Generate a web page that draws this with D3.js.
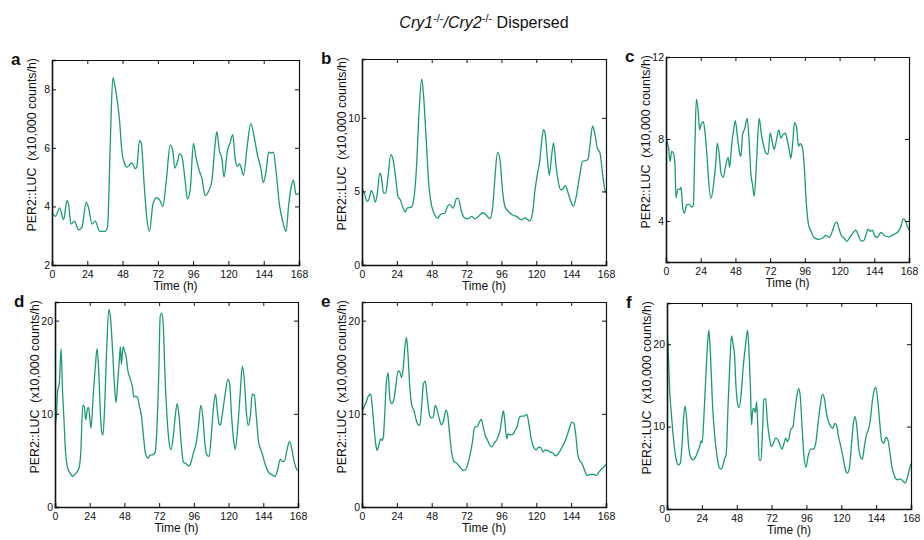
<!DOCTYPE html>
<html>
<head>
<meta charset="utf-8">
<script src="https://cdn.jsdelivr.net/npm/d3@7"></script>
<style>
  body { margin: 0; background: #fff; }
  svg text { font-family: "Liberation Sans", Arial, sans-serif; fill: #111; }
  .ylab { white-space: pre; }
</style>
</head>
<body>
<div id="chart"></div>
<script>
// PER2::LUC traces, [time (h), x10,000 counts/h]
var seriesA = [[0,3.8],[2.3,3.66],[5.2,3.95],[7.9,3.55],[10.2,4.2],[11.3,4.06],[12.9,3.4],[15.2,3.5],[18.1,3.2],[20.4,3.3],[23.3,4.15],[24.9,3.94],[27.2,3.4],[29.4,3.5],[32.4,3.15],[36.2,3.15],[37.8,3.3],[39.6,6.1],[41.4,8.4],[43,8.06],[46,6.9],[47.5,5.9],[49.1,5.5],[51,5.34],[54.3,5.49],[56.6,5.29],[57.7,5.35],[59.5,6.25],[60.7,6.17],[62.7,4.74],[64.5,3.6],[66.3,3.15],[68.6,4.06],[70.9,4.3],[73.1,4.23],[75.4,4.0],[77.7,4.86],[80.4,6.1],[82.2,5.89],[83.5,5.31],[85.4,5.54],[86.7,5.8],[88.3,5.71],[90.6,4.86],[92.1,4.25],[94,4.57],[96.2,6.15],[98,5.66],[100.3,5.2],[101.9,4.97],[104.2,4.37],[106.4,4.51],[108.7,4.86],[110.9,6.11],[112.1,6.55],[113.9,5.89],[115.5,5.66],[117,5.0],[119.3,5.89],[121.1,6.17],[123,6.45],[124.5,5.66],[126.1,5.37],[127.5,5.45],[129,5.26],[130.2,5.06],[132.9,6.11],[135.2,6.83],[137.4,6.4],[139.7,5.77],[142,5.31],[143.8,4.82],[145.6,5.2],[147.4,5.86],[148.8,5.82],[150.6,5.85],[152.4,5.2],[154.7,4.06],[156.9,3.49],[159.2,3.15],[161,4.06],[163,4.74],[164.2,4.9],[166,4.4],[168,4.45]];

var seriesB = [[0,5.2],[1.8,4.8],[3.4,4.32],[4.8,4.45],[6.4,5.05],[7.6,4.85],[9.2,4.27],[10.6,4.9],[12.2,6.25],[13.3,6.0],[14.9,4.88],[16.3,4.88],[17.9,6.0],[19.8,7.5],[21.4,7.16],[23.2,5.9],[24.8,4.66],[26.4,4.43],[28.3,3.86],[29.9,3.6],[31,3.86],[34,3.93],[35.9,4.66],[37.5,6.6],[39.3,10.45],[41.1,12.65],[42.5,11.36],[44.4,8.18],[46,5.45],[47.8,4.09],[50.1,3.4],[52,3.18],[54.2,3.45],[57,3.52],[58.8,3.98],[60.4,4.1],[62.7,3.86],[65,4.5],[66.2,4.55],[68.5,3.64],[70.8,3.18],[73.1,3.14],[75.4,3.3],[77.7,3.14],[80,3.3],[83.4,3.55],[85.8,3.36],[88,3.14],[89.9,3.86],[91.5,5.9],[93.3,7.65],[95,7.16],[96.8,5.0],[98.4,3.98],[100.7,3.64],[103.7,3.4],[106.4,3.3],[109.9,3.07],[112.2,3.2],[113.8,3.1],[115.6,3.0],[117.4,3.52],[119,5.0],[120.9,6.25],[122.5,7.16],[123.7,8.41],[125,9.2],[126.2,8.86],[127.6,7.27],[129,6.1],[130.3,7.2],[131.9,8.3],[133.5,6.82],[135.1,5.68],[136.7,5.11],[138.6,5.2],[140,5.4],[141.6,5.0],[143.6,4.36],[145.5,4.0],[147.3,4.55],[149.6,5.9],[151.9,7.05],[154.2,7.1],[155.6,7.2],[157,8.18],[158.8,9.45],[160.4,8.86],[162,7.95],[163.9,7.6],[165.7,6.14],[167.5,5.0],[168,4.9]];

var seriesC = [[0,8.0],[1.8,7.56],[2.8,6.9],[3.9,7.4],[5.1,7.32],[6.2,6.75],[6.9,5.13],[8.1,5.54],[9.7,5.54],[10.4,5.65],[11.5,4.65],[12.7,4.38],[14.3,4.8],[16.1,4.81],[17.7,4.68],[18.9,4.75],[20,7.72],[21,9.95],[22.3,9.33],[23.2,8.45],[24.2,8.69],[25.8,8.85],[26.9,8.37],[28.3,7.23],[29.5,5.94],[31.1,5.1],[32.9,5.78],[34.5,6.91],[35.4,7.8],[36.8,7.23],[38,6.35],[39.6,6.14],[41.4,6.75],[43,7.1],[44,6.62],[45.4,7.72],[46.6,8.37],[47.9,8.9],[49.5,8.04],[50.9,7.31],[51.8,7.15],[52.9,8.2],[54.5,8.52],[56.1,9.0],[57.5,7.88],[58.7,6.26],[59.8,5.78],[61,5.2],[62.6,6.91],[64.4,9.0],[66,8.2],[67.4,7.72],[69,7.31],[70.6,7.27],[72,8.3],[73.4,7.88],[74.8,7.5],[76.4,7.96],[78,8.45],[79.4,8.04],[80.8,8.2],[82.6,8.28],[84,7.88],[85.4,7.4],[86.3,7.05],[87.7,7.88],[88.8,8.8],[90.2,8.6],[91.6,7.64],[92.7,7.77],[94.3,7.59],[95.5,6.75],[96.9,4.97],[98.5,3.84],[100.1,3.52],[102.4,3.2],[105.2,3.11],[108.2,3.16],[110.5,3.3],[112.8,3.2],[115.1,3.52],[116.9,3.89],[118.1,3.95],[119.7,3.6],[121.3,3.28],[123.2,3.16],[125,3.0],[127.3,3.23],[129.6,3.44],[131.2,3.55],[133.1,3.28],[134.7,3.03],[136.5,3.03],[138.1,3.28],[139.7,3.6],[141.1,3.5],[142.7,3.55],[144.3,3.28],[146.2,3.2],[148.5,3.44],[151.2,3.28],[154.2,3.23],[157.7,3.36],[160,3.44],[162.2,3.68],[164.1,4.1],[165.5,4.0],[166.8,3.76],[168,3.55]];

var seriesD = [[0,8.64],[1.2,10.4],[1.8,12.4],[3,13.3],[4.2,17.0],[5.1,12.9],[6.2,9.36],[7.2,6.14],[8.5,4.36],[10.4,3.64],[12.2,3.3],[14.5,3.64],[16.4,4.07],[17.8,5.8],[19.2,10.9],[20.3,10.8],[21.2,9.36],[22.4,10.5],[23.1,10.7],[24,9.7],[24.9,8.46],[26.5,12.2],[27.9,15.1],[29.1,17.0],[30.2,14.7],[31.6,9.36],[32.3,8.04],[33.2,7.75],[34.6,11.9],[35.8,17.2],[37.2,21.2],[38.5,20.1],[39.9,16.5],[41.1,13.1],[42.2,11.2],[43.4,13.6],[44.5,15.8],[45.2,17.2],[45.9,15.3],[47.1,17.2],[48.2,16.7],[49.2,16.1],[50.3,14.7],[51.9,13.8],[53.5,12.9],[54.5,11.8],[55.8,11.9],[57.2,11.7],[58.4,10.8],[59.8,9.7],[61.2,7.57],[62.5,5.8],[64.2,5.25],[65.8,5.57],[67.6,5.6],[69.2,5.86],[70.4,8.29],[71.8,14.7],[72.7,20.4],[73.8,20.8],[74.8,19.7],[75.9,14.7],[77.3,10.1],[78.7,7.2],[80.1,6.14],[81.5,7.2],[83.1,9.7],[84.5,11.1],[85.8,9.7],[87.2,6.86],[88.8,4.82],[90.7,4.64],[92.5,4.4],[94.2,4.89],[95.8,5.86],[97.6,6.86],[99.2,8.64],[100.8,10.9],[102.2,9.7],[103.6,6.86],[105,5.6],[106.6,5.43],[108,7.57],[109.6,10.8],[111,12.1],[112.2,10.4],[113.3,9.0],[114.2,8.75],[115.8,10.1],[117.7,12.2],[119.5,13.7],[120.7,13.3],[122.1,9.7],[123.5,7.2],[124.6,6.2],[126.2,8.29],[127.9,11.9],[129.5,15.1],[130.9,13.6],[132.2,10.4],[133.6,8.75],[135,9.7],[136.4,12.1],[137.8,12.0],[139.2,9.7],[140.8,6.93],[143.1,5.8],[145.4,4.54],[147.7,3.71],[150,3.46],[152.3,3.3],[153.9,4.0],[155.8,5.14],[156.9,4.9],[158.5,4.9],[160.4,6.14],[162.2,7.04],[163.8,6.14],[165.5,4.79],[167.3,4.0],[168,3.95]];

var seriesE = [[0.5,10.4],[2.5,11.1],[4.4,11.9],[6,12.1],[7.1,10.7],[8.5,8.2],[9.4,6.8],[10.4,6.07],[11.5,6.6],[12.9,7.3],[13.8,7.14],[14.7,7.5],[15.6,9.8],[16.8,13.4],[18,14.4],[19.1,11.8],[20.3,11.1],[21.9,11.5],[23.3,13.0],[24.9,14.6],[26,14.5],[27.2,13.9],[28.3,14.8],[29.5,17.1],[30.6,18.2],[31.5,16.8],[32.9,12.9],[34.3,10.9],[35.7,10.4],[37.1,9.46],[38.2,8.93],[39.8,8.75],[41.2,11.1],[42.3,13.2],[43.5,13.5],[44.9,11.8],[46.3,10.0],[47.6,9.57],[49,9.64],[50.4,10.9],[51.8,10.4],[53.2,9.46],[54.8,8.82],[56.2,9.29],[57.8,10.4],[58.9,10.0],[60.1,8.2],[61.7,5.9],[63.3,4.89],[65.1,4.71],[67.4,4.29],[69.7,3.93],[71.3,4.0],[73.2,4.82],[74.8,5.9],[76.2,7.14],[77.5,8.57],[79.4,8.64],[80.8,9.1],[82.2,9.4],[83.5,8.57],[84.9,7.68],[86.3,7.21],[87.7,6.71],[89.3,6.45],[91.1,6.86],[92.8,7.21],[94.4,7.86],[95.5,8.57],[96.4,9.64],[97.4,10.3],[98.5,8.93],[99.7,7.32],[100.6,7.86],[102,7.75],[103.8,7.79],[105.4,8.21],[107.1,8.75],[108.4,9.64],[110,9.75],[111.7,9.75],[113.5,9.95],[114.9,8.93],[116.3,7.5],[118.1,6.43],[120,6.14],[121.6,6.43],[123.2,6.36],[124.6,5.89],[126.2,6.14],[127.8,6.07],[129.6,5.89],[131.5,5.79],[133.1,5.5],[134.7,5.64],[136.5,6.07],[138.4,6.61],[140,7.14],[141.6,7.86],[143,8.57],[144.6,9.1],[145.8,9.0],[147.1,7.86],[148.5,5.71],[149.9,5.0],[151.5,4.64],[153.1,4.0],[155,3.39],[157.3,3.5],[159.6,3.5],[161.4,3.39],[163,3.75],[164.6,4.0],[166.5,4.29],[168,4.6]];

var seriesF = [[0,22.1],[0.9,18.9],[1.8,14.4],[2.8,12.0],[4.1,9.2],[5.3,7.18],[6.4,5.97],[7.8,5.36],[9.2,5.56],[10.4,8.0],[11.3,10.8],[12.4,12.5],[13.6,10.8],[14.7,8.0],[16.1,6.37],[17.7,5.97],[19.3,6.17],[21.2,6.98],[22.6,7.66],[23.5,8.27],[24.2,8.06],[25.3,10.8],[26.7,16.0],[27.8,19.7],[28.8,21.7],[29.9,18.9],[31.3,12.8],[32.9,8.79],[34.5,6.37],[35.9,5.04],[37.3,4.84],[38.6,5.36],[39.8,6.17],[40.7,6.57],[42.1,12.8],[43.3,17.7],[44.4,21.0],[45.6,19.9],[46.5,18.7],[47.4,15.2],[48.6,12.8],[49.7,12.3],[51.1,14.0],[52.5,17.3],[54.1,19.9],[55.5,21.7],[56.6,18.5],[57.5,14.4],[58.2,10.2],[59.2,12.2],[60.1,12.1],[60.8,11.7],[61.7,13.0],[62.6,9.6],[63.5,5.97],[64.7,5.89],[65.8,9.6],[66.7,13.3],[67.9,13.4],[69,10.8],[70.4,8.79],[71.8,7.58],[73.2,7.98],[74.8,8.59],[76.4,8.39],[77.8,7.78],[79.2,7.26],[80.6,7.98],[81.7,8.59],[82.8,8.19],[84,8.59],[85.1,9.6],[86.7,10.0],[88.1,12.0],[89.5,13.8],[90.7,14.6],[91.8,13.6],[93,10.0],[94.3,6.37],[95.7,5.08],[97.1,6.37],[98.9,7.26],[100.7,7.26],[102.4,7.98],[104,10.4],[105.4,12.4],[107,13.95],[108.4,13.4],[109.8,11.6],[111.2,10.6],[112.8,10.0],[114.2,9.8],[115.6,10.4],[116.7,10.2],[118.1,8.79],[119.7,7.58],[121.5,5.97],[122.9,4.76],[124.3,4.35],[125.7,5.16],[127.1,7.98],[128.5,10.6],[129.6,11.2],[130.8,9.8],[131.9,7.58],[133.1,6.37],[134.5,6.05],[135.9,7.58],[137.3,8.99],[138.6,9.6],[140,10.8],[141.2,12.8],[142.6,14.4],[143.7,14.8],[145.1,13.2],[146.5,10.4],[147.9,8.19],[149.3,7.98],[150.7,8.71],[152.1,8.39],[153.4,6.98],[154.8,5.16],[156.7,3.95],[158.5,3.55],[160.8,3.63],[162.7,3.35],[164,3.15],[165.4,3.75],[166.8,4.76],[168,5.5]];

var panelLetters = ["a", "b", "c", "d", "e", "f"];
var yDomains = [[2, 9], [0, 14], [2, 12], [0, 22], [0, 22], [0, 25]];
var yTickValues = [[2, 4, 6, 8], [0, 5, 10], [4, 8, 12], [0, 10, 20], [0, 10, 20], [0, 10, 20]];
var xTickValues = [0, 24, 48, 72, 96, 120, 144, 168];
var allSeries = [seriesA, seriesB, seriesC, seriesD, seriesE, seriesF];

// plot boxes: left, top, right, bottom (px)
var boxes = [
  [52, 60, 299, 265],
  [362, 59, 606, 265],
  [666, 57, 909, 262],
  [55, 302, 298, 507],
  [362, 302, 606, 507],
  [667, 303, 911, 509]
];

var lineColor = "#1b9a72";

var svg = d3.select("#chart")
  .append("svg")
  .attr("width", 924)
  .attr("height", 540);

// Title
var title = svg.append("text")
  .attr("x", 484)
  .attr("y", 28)
  .attr("text-anchor", "middle")
  .style("font-size", "16px");
title.append("tspan").style("font-style", "italic").text("Cry1");
title.append("tspan").attr("dy", -6).style("font-size", "11px").text("-/-");
title.append("tspan").attr("dy", 6).style("font-style", "italic").text("/Cry2");
title.append("tspan").attr("dy", -6).style("font-size", "11px").text("-/-");
title.append("tspan").attr("dy", 6).text(" Dispersed");

allSeries.forEach(function(data, i) {
  var b = boxes[i];
  var w = b[2] - b[0];
  var h = b[3] - b[1];

  var g = svg.append("g")
    .attr("transform", `translate(${b[0]}, ${b[1]})`);

  var x = d3.scaleLinear().domain([0, 168]).range([0, w]);
  var y = d3.scaleLinear().domain(yDomains[i]).range([h, 0]);

  g.append("clipPath")
    .attr("id", "clip" + i)
    .append("rect")
    .attr("width", w)
    .attr("height", h);

  var line = d3.line()
    .x(d => x(d[0]))
    .y(d => y(d[1]))
    .curve(d3.curveMonotoneX);

  g.append("path")
    .datum(data)
    .attr("clip-path", `url(#clip${i})`)
    .attr("fill", "none")
    .attr("stroke", lineColor)
    .attr("stroke-width", 1.3)
    .attr("d", line);

  // inward ticks on all four sides
  var bottomAxis = d3.axisBottom(x).tickValues(xTickValues).tickSize(-4).tickPadding(6).tickFormat(d3.format("d"));
  var topAxis = d3.axisTop(x).tickValues(xTickValues).tickSize(-4).tickFormat("");
  var leftAxis = d3.axisLeft(y).tickValues(yTickValues[i]).tickSize(-4).tickPadding(2).tickFormat(d3.format("d"));
  var rightAxis = d3.axisRight(y).tickValues(yTickValues[i]).tickSize(-4).tickFormat("");

  var xAx = g.append("g").attr("transform", `translate(0, ${h})`).call(bottomAxis);
  var tAx = g.append("g").call(topAxis);
  var yAx = g.append("g").call(leftAxis);
  var rAx = g.append("g").attr("transform", `translate(${w}, 0)`).call(rightAxis);

  [xAx, tAx, yAx, rAx].forEach(function(ax) {
    ax.selectAll("text").style("font-size", "10.5px").style("font-family", '"Liberation Sans", Arial, sans-serif').attr("fill", "#111");
    ax.selectAll("line").attr("stroke", "#111");
    ax.select(".domain").attr("stroke", "#111");
  });
  xAx.select(".domain").attr("stroke-width", 1.6);
  yAx.select(".domain").attr("stroke-width", 1.6);
  tAx.select(".domain").attr("stroke-width", 1);
  rAx.select(".domain").attr("stroke-width", 1.2);

  // axis labels
  g.append("text")
    .attr("x", w / 2)
    .attr("y", h + 25)
    .attr("text-anchor", "middle")
    .style("font-size", "12px")
    .text("Time (h)");

  g.append("text")
    .attr("class", "ylab")
    .attr("transform", "rotate(-90)")
    .attr("x", 2)
    .attr("y", -16)
    .attr("text-anchor", "end")
    .style("font-size", "12.4px")
    .text("PER2::LUC  (x10,000 counts/h)");

  // panel letter
  svg.append("text")
    .attr("x", b[0] - 41)
    .attr("y", b[1] + 5)
    .style("font-size", "17px")
    .style("font-weight", "bold")
    .text(panelLetters[i]);
});
</script>
</body>
</html>
